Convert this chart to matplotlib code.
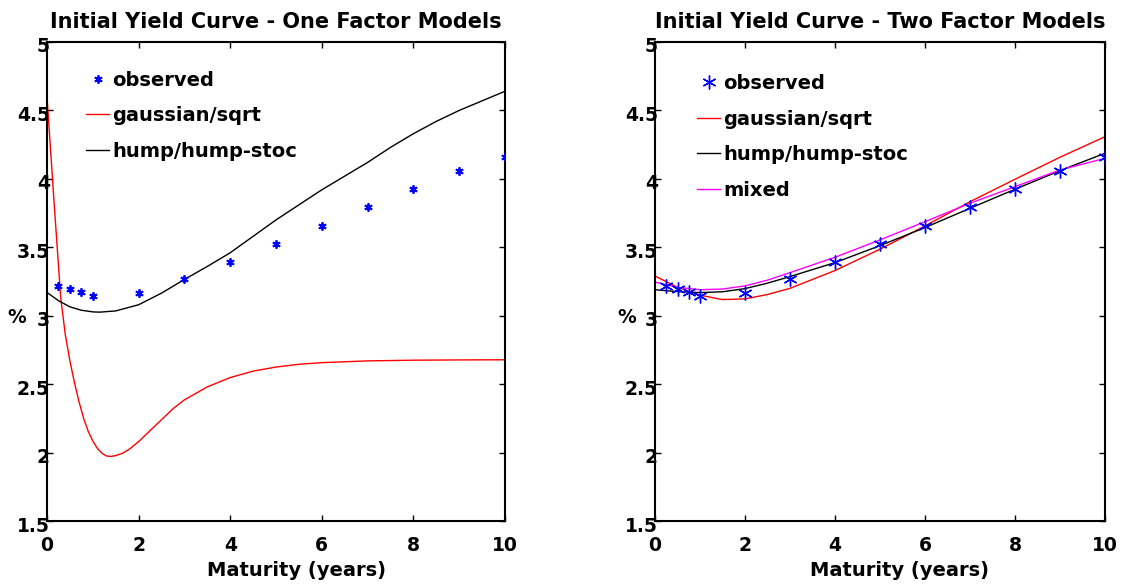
import matplotlib
matplotlib.use("Agg")
import matplotlib.pyplot as plt
import matplotlib.transforms as mtransforms

plt.rcParams['font.family'] = ['DejaVu Sans']
plt.rcParams['font.weight'] = 'bold'

# Observed yields
mat_obs = [0.25, 0.5, 0.75, 1, 2, 3, 4, 5, 6, 7, 8, 9, 10]
yld_obs = [3.22, 3.196, 3.174, 3.147, 3.169, 3.271, 3.391, 3.522, 3.658, 3.797, 3.929, 4.060, 4.158]

# One factor models
x_g1 = [0, 0.15, 0.3, 0.4, 0.5, 0.6, 0.7, 0.8, 0.9, 1.0, 1.1, 1.2, 1.3, 1.4, 1.5, 1.65, 1.8, 2.0,
        2.25, 2.5, 2.75, 3.0, 3.5, 4.0, 4.5, 5.0, 5.5, 6.0, 7.0, 8.0, 9.0, 10.0]
y_g1 = [4.60, 3.85, 3.13, 2.86, 2.67, 2.51, 2.37, 2.25, 2.155, 2.085, 2.03, 1.995, 1.975, 1.972, 1.978,
        1.995, 2.025, 2.08, 2.16, 2.24, 2.32, 2.385, 2.48, 2.548, 2.595, 2.625, 2.645, 2.657, 2.670,
        2.675, 2.677, 2.678]
x_h1 = [0, 0.25, 0.5, 0.75, 1.0, 1.15, 1.5, 2.0, 2.5, 3.0, 3.5, 4.0, 4.5, 5.0, 5.5, 6.0, 6.5, 7.0,
        7.5, 8.0, 8.5, 9.0, 9.5, 10.0]
y_h1 = [3.17, 3.11, 3.065, 3.04, 3.028, 3.026, 3.035, 3.08, 3.165, 3.265, 3.36, 3.46, 3.58, 3.70,
        3.81, 3.92, 4.02, 4.12, 4.23, 4.33, 4.42, 4.50, 4.57, 4.64]

# Two factor models
x_2 = [0, 0.5, 1.0, 1.5, 2.0, 2.5, 3.0, 4.0, 5.0, 6.0, 7.0, 8.0, 9.0, 10.0]
y_g2 = [3.29, 3.208, 3.15, 3.118, 3.123, 3.155, 3.20, 3.33, 3.486, 3.656, 3.833, 3.997, 4.158, 4.308]
y_h2 = [3.19, 3.176, 3.169, 3.175, 3.198, 3.238, 3.286, 3.388, 3.512, 3.644, 3.785, 3.924, 4.060, 4.187]
y_m2 = [3.245, 3.208, 3.19, 3.195, 3.218, 3.26, 3.315, 3.427, 3.554, 3.687, 3.822, 3.943, 4.065, 4.150]

titles = ['Initial Yield Curve - One Factor Models', 'Initial Yield Curve - Two Factor Models']
xticks = [0, 2, 4, 6, 8, 10]
yticks = [1.5, 2, 2.5, 3, 3.5, 4, 4.5, 5]
ytick_labels = ['1.5', '2', '2.5', '3', '3.5', '4', '4.5', '5']

fig = plt.figure(figsize=(11.4, 5.84), dpi=100)
ax1 = fig.add_axes([47/1140, 63/584, 458/1140, 479/584])
ax2 = fig.add_axes([655/1140, 63/584, 450/1140, 479/584])

ast = (6, 2, 0)
ax1.plot(mat_obs, yld_obs, linestyle='none', marker=ast, color='blue', markersize=6, mew=1.3,
         label='observed', zorder=5)
ax1.plot(x_g1, y_g1, color='red', lw=1.0, label='gaussian/sqrt')
ax1.plot(x_h1, y_h1, color='black', lw=1.0, label='hump/hump-stoc')

ax2.plot(mat_obs, yld_obs, linestyle='none', marker=ast, color='blue', markersize=10, mew=1.0,
         label='observed', zorder=5)
ax2.plot(x_2, y_g2, color='red', lw=1.0, label='gaussian/sqrt')
ax2.plot(x_2, y_h2, color='black', lw=1.0, label='hump/hump-stoc')
ax2.plot(x_2, y_m2, color='magenta', lw=1.0, label='mixed')

down = mtransforms.ScaledTranslation(0, -3/100, fig.dpi_scale_trans)

for ax, t in zip([ax1, ax2], titles):
    ax.set_xlim(0, 10)
    ax.set_ylim(1.5, 5)
    ax.set_xticks(xticks)
    ax.set_yticks(yticks)
    ax.set_yticklabels(ytick_labels)
    ax.tick_params(direction='in', top=True, right=True, length=4.5, width=1.0, labelsize=13.5)
    ax.tick_params(axis='y', pad=-2)
    ax.tick_params(axis='x', pad=11)
    for s in ax.spines.values():
        s.set_linewidth(1.5)
    ax.set_title(t, fontsize=15, fontweight='bold', pad=10)
    ax.set_xlabel('Maturity (years)', fontsize=14, fontweight='bold')
    ax.xaxis.set_label_coords(0.544, -0.084)
    ax.set_ylabel('%', fontsize=13.5, fontweight='bold', rotation=0, va='center', ha='center')
    for lbl in ax.get_yticklabels() + ax.get_xticklabels():
        lbl.set_fontweight('bold')
    for lbl in ax.get_yticklabels():
        lbl.set_transform(lbl.get_transform() + down)

ax1.yaxis.set_label_coords(-30/458, 0.424)
ax2.yaxis.set_label_coords(-28.5/450, 0.424)

leg_kw = dict(loc='upper left', frameon=False, fontsize=14, handlelength=1.2,
              handletextpad=0.15, labelspacing=0.85, borderaxespad=0, borderpad=0)
ax1.legend(bbox_to_anchor=(39/458, 0.94), **leg_kw)
ax2.legend(bbox_to_anchor=(42/450, 0.933), **leg_kw)

fig.savefig('out.png', dpi=100)
